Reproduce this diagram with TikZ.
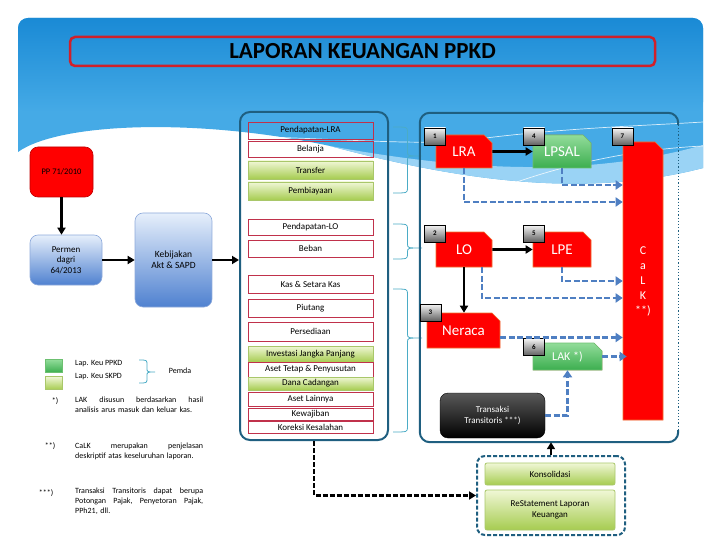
\documentclass[tikz,border=0pt]{standalone}
\usepackage{fontspec}
\setmainfont{Carlito}
\usetikzlibrary{positioning}
\usetikzlibrary{arrows.meta}
\usetikzlibrary{shapes.misc}

\definecolor{bgtop}{HTML}{1A8AD5}
\definecolor{bglow}{HTML}{45AAE6}
\definecolor{bgband}{HTML}{9AD3F5}
\definecolor{panelline}{HTML}{1F5F80}
\definecolor{itemred}{HTML}{C0314B}
\definecolor{limeline}{HTML}{A9C76A}
\definecolor{limetop}{HTML}{F0F7D6}
\definecolor{limebot}{HTML}{A6CC50}
\definecolor{bluetop}{HTML}{E6EFFB}
\definecolor{bluebot}{HTML}{4F81D0}
\definecolor{blueline}{HTML}{8EAADB}
\definecolor{greentop}{HTML}{92DC9A}
\definecolor{greenbot}{HTML}{3CAE4F}
\definecolor{greenline}{HTML}{6CC070}
\definecolor{dashblue}{HTML}{4F7FC2}
\definecolor{bracecol}{HTML}{4BACC6}
\definecolor{titlered}{HTML}{D0202A}
\definecolor{reportline}{HTML}{F07030}

\newcommand{\curlybrace}[5]{%
  \draw[brc] (#1,#3) .. controls ({(#1+#2)/2},#3) .. ({(#1+#2)/2},{#3+5})
    -- ({(#1+#2)/2},{#4-4}) .. controls ({(#1+#2)/2},#4) .. (#2,#4)
    .. controls ({(#1+#2)/2},#4) .. ({(#1+#2)/2},{#4+4})
    -- ({(#1+#2)/2},{#5-5}) .. controls ({(#1+#2)/2},#5) .. (#1,#5);}

\begin{document}
\begin{tikzpicture}[x=1pt, y=-1pt,
    every node/.style={font=\fontsize{9}{10.5}\selectfont, align=center, inner sep=0pt},
    panel/.style={draw=panelline, line width=2pt, rounded corners=10pt},
    item/.style={draw=itemred, line width=0.8pt, minimum width=125pt},
    lime/.style={item, draw=limeline, top color=limetop, bottom color=limebot},
    bluebox/.style={draw=blueline, line width=0.6pt, rounded corners=8pt, top color=bluetop, bottom color=bluebot},
    report/.style={chamfered rectangle, chamfered rectangle corners=north east,
      chamfered rectangle xsep=4pt, chamfered rectangle ysep=4pt,
      fill=red, draw=reportline, line width=0.6pt, text=white, font=\fontsize{15}{15}\selectfont},
    greenreport/.style={report, draw=greenline, top color=greentop, bottom color=greenbot},
    tag/.style={draw=black, line width=0.6pt, top color=gray!8, bottom color=gray!75!black,
      minimum width=21pt, minimum height=17pt, font=\fontsize{7}{7}\selectfont\bfseries},
    flow/.style={-{Triangle[length=7pt,width=8pt]}, line width=2.8pt},
    link/.style={-{Triangle[length=7pt,width=9pt]}, line width=2.8pt, draw=dashblue, dash pattern=on 6pt off 2.5pt},
    note/.style={font=\fontsize{8}{10}\selectfont, text width=128pt, align=left, anchor=north west},
    brc/.style={draw=bracecol, line width=0.8pt}
  ]
  \useasboundingbox (0,0) rectangle (720,540);
  \fill[white] (0,0) rectangle (720,540);
  \fill[bglow] (18,152) [rounded corners=10pt] -- (18,18) -- (703,18) [sharp corners] -- (703,168)
    .. controls (580,200) and (450,178) .. (330,146)
    .. controls (200,118) and (60,122) .. (18,152) -- cycle;
  \shade[top color=bgtop, bottom color=bglow, rounded corners=10pt] (18,18) rectangle (703,112);
  \fill[bgband] (703,168) .. controls (580,200) and (450,178) .. (330,146)
    .. controls (450,168) and (580,180) .. (703,145) -- cycle;
  \draw[white, line width=0.7pt, opacity=0.8] (230,136) .. controls (330,138) and (420,146) .. (470,140) .. controls (560,128) and (640,126) .. (703,122);
  \draw[white, line width=0.7pt, opacity=0.8] (470,200) .. controls (540,170) and (620,150) .. (703,146);

  \node[draw=titlered, line width=2.5pt, rounded corners=5pt, minimum width=585pt, minimum height=29pt,
    font=\fontsize{23}{23}\selectfont\bfseries] (title) at (362.5,51.5) {LAPORAN KEUANGAN PPKD};

  \node[fill=red, draw=red!75!black, line width=0.6pt, rounded corners=8pt, minimum width=63pt,
    minimum height=50pt, font=\fontsize{8.5}{10}\selectfont] (PP) at (61.5,172) {PP 71/2010};
  \node[bluebox, minimum width=72pt, minimum height=50pt] (permen) at (66,260) {Permen\\dagri\\64/2013};
  \node[bluebox, minimum width=77pt, minimum height=94pt, font=\fontsize{9.5}{11}\selectfont] (kebijakan) at (173.5,260) {Kebijakan\\Akt \& SAPD};

  \node[panel, minimum width=148pt, minimum height=328pt] (src) at (314,276) {};
  \node[item, minimum height=17pt] (plra) at (310.5,130.5) {Pendapatan-LRA};
  \node[item, minimum height=16pt] (belanja) at (310.5,149) {Belanja};
  \node[lime, minimum height=18pt] (transfer) at (310.5,170) {Transfer};
  \node[lime, minimum height=18pt] (pembiayaan) at (310.5,191) {Pembiayaan};
  \node[item, minimum height=16pt] (plo) at (310.5,227) {Pendapatan-LO};
  \node[item, minimum height=17pt] (beban) at (310.5,248.5) {Beban};
  \node[item, minimum height=18pt] (kas) at (310.5,284) {Kas \& Setara Kas};
  \node[item, minimum height=18pt] (piutang) at (310.5,308) {Piutang};
  \node[item, minimum height=19pt] (persediaan) at (310.5,331.5) {Persediaan};
  \node[lime, minimum height=16pt] (investasi) at (310.5,354) {Investasi Jangka Panjang};
  \node[item, minimum height=15pt] (asettetap) at (310.5,369.5) {Aset Tetap \& Penyusutan};
  \node[lime, minimum height=13pt] (dana) at (310.5,383.5) {Dana Cadangan};
  \node[item, minimum height=14pt] (asetlain) at (310.5,399) {Aset Lainnya};
  \node[item, minimum height=12pt] (kewajiban) at (310.5,414) {Kewajiban};
  \node[item, minimum height=12pt] (koreksi) at (310.5,427) {Koreksi Kesalahan};

  \curlybrace{393}{422}{127}{156}{193}
  \curlybrace{393}{422}{224}{248}{259}
  \curlybrace{393}{422}{289}{338}{432}

  \node[minimum width=258pt, minimum height=329pt] (rpanel) at (549,277.5) {};
  \draw[panelline, line width=2pt, rounded corners=10pt] ([yshift=-12pt]rpanel.north east)
    |- (rpanel.north west) |- (rpanel.south east) -- ([yshift=12pt]rpanel.south east);
  \draw[panelline, line width=1.2pt, dotted] ([yshift=-12pt]rpanel.north east) -- ([yshift=12pt]rpanel.south east);

  \node[report, minimum width=56pt, minimum height=33pt] (LRA) at (464,151.5) {LRA};
  \node[greenreport, minimum width=58pt, minimum height=33pt] (LPSAL) at (562,151.5) {LPSAL};
  \node[report, minimum width=40pt, minimum height=278pt, font=\fontsize{12}{15}\selectfont] (CaLK) at (643,281) {C\\a\\L\\K\\**)};
  \node[report, minimum width=56pt, minimum height=35pt] (LO) at (464,249.5) {LO};
  \node[report, minimum width=58pt, minimum height=35pt] (LPE) at (562,249.5) {LPE};
  \node[report, minimum width=73pt, minimum height=35pt] (neraca) at (463.5,330.5) {Neraca};
  \node[greenreport, minimum width=69pt, minimum height=27pt, font=\fontsize{12}{12}\selectfont] (LAK) at (567.5,356.5) {LAK *)};
  \node[rounded corners=8pt, top color=gray!70!black, bottom color=black, draw=black, text=white,
    minimum width=105pt, minimum height=45pt] (transaksi) at (492.5,415.5) {Transaksi\\Transitoris ***)};

  \node[tag] (t1) at (435,136.5) {1};
  \node[tag] (t4) at (534,136.5) {4};
  \node[tag] (t7) at (622.5,136.5) {7};
  \node[tag] (t2) at (435,233.5) {2};
  \node[tag] (t5) at (534,233.5) {5};
  \node[tag] (t3) at (430.5,312.5) {3};
  \node[tag] (t6) at (534,347) {6};

  \node[panel, draw=panelline, dash pattern=on 4pt off 2pt, rounded corners=8pt,
    minimum width=148pt, minimum height=79pt] (grp) at (551,495.5) {};
  \node[lime, minimum width=130pt, minimum height=22pt, rounded corners=2pt] (konsolidasi) at (550,474) {Konsolidasi};
  \node[lime, minimum width=130pt, minimum height=40pt, rounded corners=2pt] (restatement) at (550,510) {ReStatement Laporan\\Keuangan};

  \coordinate (lane1) at (0,185);
  \coordinate (lane2) at (0,202);
  \coordinate (lane3) at (0,281);
  \coordinate (lane4) at (0,298);

  \draw[flow] (PP.south) -- (PP.south |- permen.north);
  \draw[flow] (permen) -- (kebijakan);
  \draw[flow] (kebijakan.east) -- (kebijakan.east -| src.west);
  \draw[flow] (LRA) -- (LPSAL);
  \draw[flow] (LO) -- (LPE);
  \draw[flow] (LO.south) -- (LO.south |- neraca.north);
  \draw[link] (LPSAL.south) |- (lane1 -| CaLK.west);
  \draw[link] (LRA.south) |- (lane2 -| CaLK.west);
  \draw[link] (LPE.south) |- (lane3 -| CaLK.west);
  \draw[link] ([xshift=18pt]LO.south) |- (lane4 -| CaLK.west);
  \draw[link] ([yshift=-7pt]neraca.east) -- ([yshift=-7pt]neraca.east -| CaLK.west);
  \draw[link] (LAK.east) -- ([xshift=4pt]LAK.east -| CaLK.west);
  \draw[link] (transaksi.east) -| (LAK.south);
  \draw[flow, dash pattern=on 5pt off 2pt] (src.south) |- (grp.west);
  \draw[flow] (grp.north) -- (grp.north |- rpanel.south);

  \node[greenreport, chamfered rectangle xsep=0pt, chamfered rectangle ysep=0pt,
    minimum width=17pt, minimum height=13pt] (swatchppkd) at (53.5,366) {};
  \node[lime, minimum width=17pt, minimum height=13pt] (swatchskpd) at (53.5,383) {};
  \node[anchor=west, font=\fontsize{8}{10}\selectfont] (ppkd) at (75,364) {Lap. Keu PPKD};
  \node[anchor=west, font=\fontsize{8}{10}\selectfont] (skpd) at (75,377) {Lap. Keu SKPD};
  \curlybrace{139}{155}{360}{372}{383}
  \node[font=\fontsize{8}{10}\selectfont] (pemda) at (180,371) {Pemda};

  \node[font=\fontsize{8}{10}\selectfont] (star1) at (55,401) {*)};
  \node[note] (note1) at (75,397) {LAK\hfill disusun\hfill berdasarkan\hfill hasil\\analisis arus masuk dan keluar kas.};
  \node[font=\fontsize{8}{10}\selectfont] (star2) at (50,446) {**)};
  \node[note] (note2) at (75,443) {CaLK\hfill merupakan\hfill penjelasan\\deskriptif atas keseluruhan laporan.};
  \node[font=\fontsize{8}{10}\selectfont] (star3) at (46,493) {***)};
  \node[note] (note3) at (75,488) {Transaksi\hfill Transitoris\hfill dapat\hfill berupa\\Potongan\hfill Pajak,\hfill Penyetoran\hfill Pajak,\\PPh21, dll.};
\end{tikzpicture}
\end{document}
